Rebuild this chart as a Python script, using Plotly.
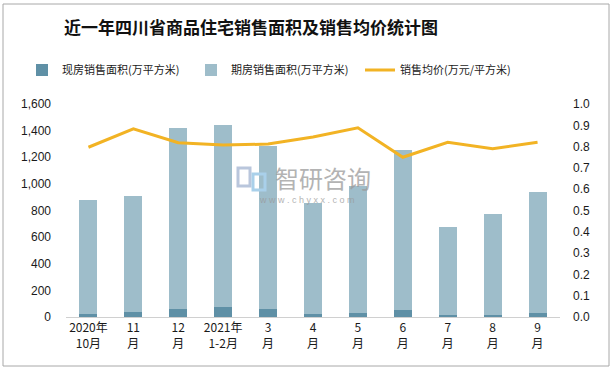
import plotly.graph_objects as go

categories = ["2020年<br>10月", "11<br>月", "12<br>月", "2021年<br>1-2月", "3<br>月", "4<br>月",
              "5<br>月", "6<br>月", "7<br>月", "8<br>月", "9<br>月"]
xianfang = [22, 37, 60, 75, 60, 22, 30, 52, 15, 15, 30]
qifang = [857, 872, 1360, 1367, 1227, 834, 954, 1203, 663, 761, 909]
price = [0.797, 0.883, 0.818, 0.807, 0.812, 0.845, 0.888, 0.750, 0.820, 0.790, 0.820]
left_ticks = [0, 200, 400, 600, 800, 1000, 1200, 1400, 1600]
right_ticks = [0.0, 0.1, 0.2, 0.3, 0.4, 0.5, 0.6, 0.7, 0.8, 0.9, 1.0]

W, H = 614, 372
L, R, T, B = 66, 54, 104, 55
pw, ph = W - L - R, H - T - B

def px(x):
    return (x - L) / pw

def py(y):
    return (H - B - y) / ph

font_num = "Liberation Sans, Arial, Noto Sans CJK SC, sans-serif"
font_cjk = "Noto Sans CJK SC, Liberation Sans, sans-serif"

fig = go.Figure()
fig.add_trace(go.Bar(x=categories, y=xianfang, name="现房销售面积(万平方米)",
                     marker=dict(color="#5f90a6", line=dict(width=0))))
fig.add_trace(go.Bar(x=categories, y=qifang, name="期房销售面积(万平方米)",
                     marker=dict(color="#9ebdca", line=dict(width=0))))
fig.add_trace(go.Scatter(x=categories, y=price, name="销售均价(万元/平方米)", yaxis="y2",
                         mode="lines", line=dict(color="#f2b324", width=3)))

logo_shapes = [
    dict(type="rect", xref="paper", yref="paper", x0=px(238), x1=px(250), y0=py(186), y1=py(168),
         line=dict(color="#b9c6dc", width=3), fillcolor="rgba(0,0,0,0)"),
    dict(type="rect", xref="paper", yref="paper", x0=px(253), x1=px(265), y0=py(190), y1=py(174),
         line=dict(color="#a9d0ea", width=3), fillcolor="rgba(0,0,0,0)"),
]

fig.update_layout(
    width=W, height=H,
    margin=dict(l=L, r=R, t=T, b=B, autoexpand=False),
    barmode="stack", bargap=0.6,
    paper_bgcolor="white", plot_bgcolor="white",
    font=dict(family=font_cjk, size=11, color="#1a1a1a"),
    title=dict(text="<b>近一年四川省商品住宅销售面积及销售均价统计图</b>",
               font=dict(family=font_cjk, size=17, color="#111111"),
               x=251 / W, xanchor="center", xref="container",
               y=1 - 28 / H, yanchor="middle", yref="container"),
    legend=dict(orientation="h", xref="paper", yref="paper",
                x=px(22), xanchor="left", y=py(70), yanchor="middle",
                font=dict(family=font_cjk, size=11, color="#1a1a1a"),
                entrywidth=124, entrywidthmode="pixels", traceorder="normal",
                bgcolor="rgba(0,0,0,0)"),
    xaxis=dict(showgrid=False, showline=True, linecolor="#d0d0d0", linewidth=1,
               ticks="", tickfont=dict(family=font_cjk, size=12, color="#1a1a1a"),
               fixedrange=True),
    yaxis=dict(range=[0, 1600], tickvals=left_ticks, tickformat=",", showgrid=False,
               zeroline=False, showline=False, ticks="", ticklabelstandoff=14,
               tickfont=dict(family=font_num, size=12, color="#1a1a1a")),
    yaxis2=dict(range=[0, 1.0], tickvals=right_ticks, tickformat=".1f", overlaying="y",
                side="right", showgrid=False, zeroline=False, showline=False, ticks="",
                ticklabelstandoff=12,
                tickfont=dict(family=font_num, size=12, color="#1a1a1a")),
    shapes=[dict(type="rect", xref="paper", yref="paper",
                 x0=px(3), x1=px(609), y0=py(366), y1=py(4),
                 line=dict(color="#a8a8a8", width=1), layer="below")] + logo_shapes,
    annotations=[
        dict(text="智研咨询", xref="paper", yref="paper", x=px(323), y=py(177),
             showarrow=False, font=dict(family=font_cjk, size=24, color="#9a9a9a"),
             opacity=0.75),
        dict(text="w w w . c h y x x . c o m", xref="paper", yref="paper", x=px(307), y=py(200),
             showarrow=False, font=dict(family=font_num, size=9, color="#9a9a9a"),
             opacity=0.75),
    ],
)

fig.write_html("out.html", config={"displayModeBar": False},
               post_script="document.body.style.margin='0';")
